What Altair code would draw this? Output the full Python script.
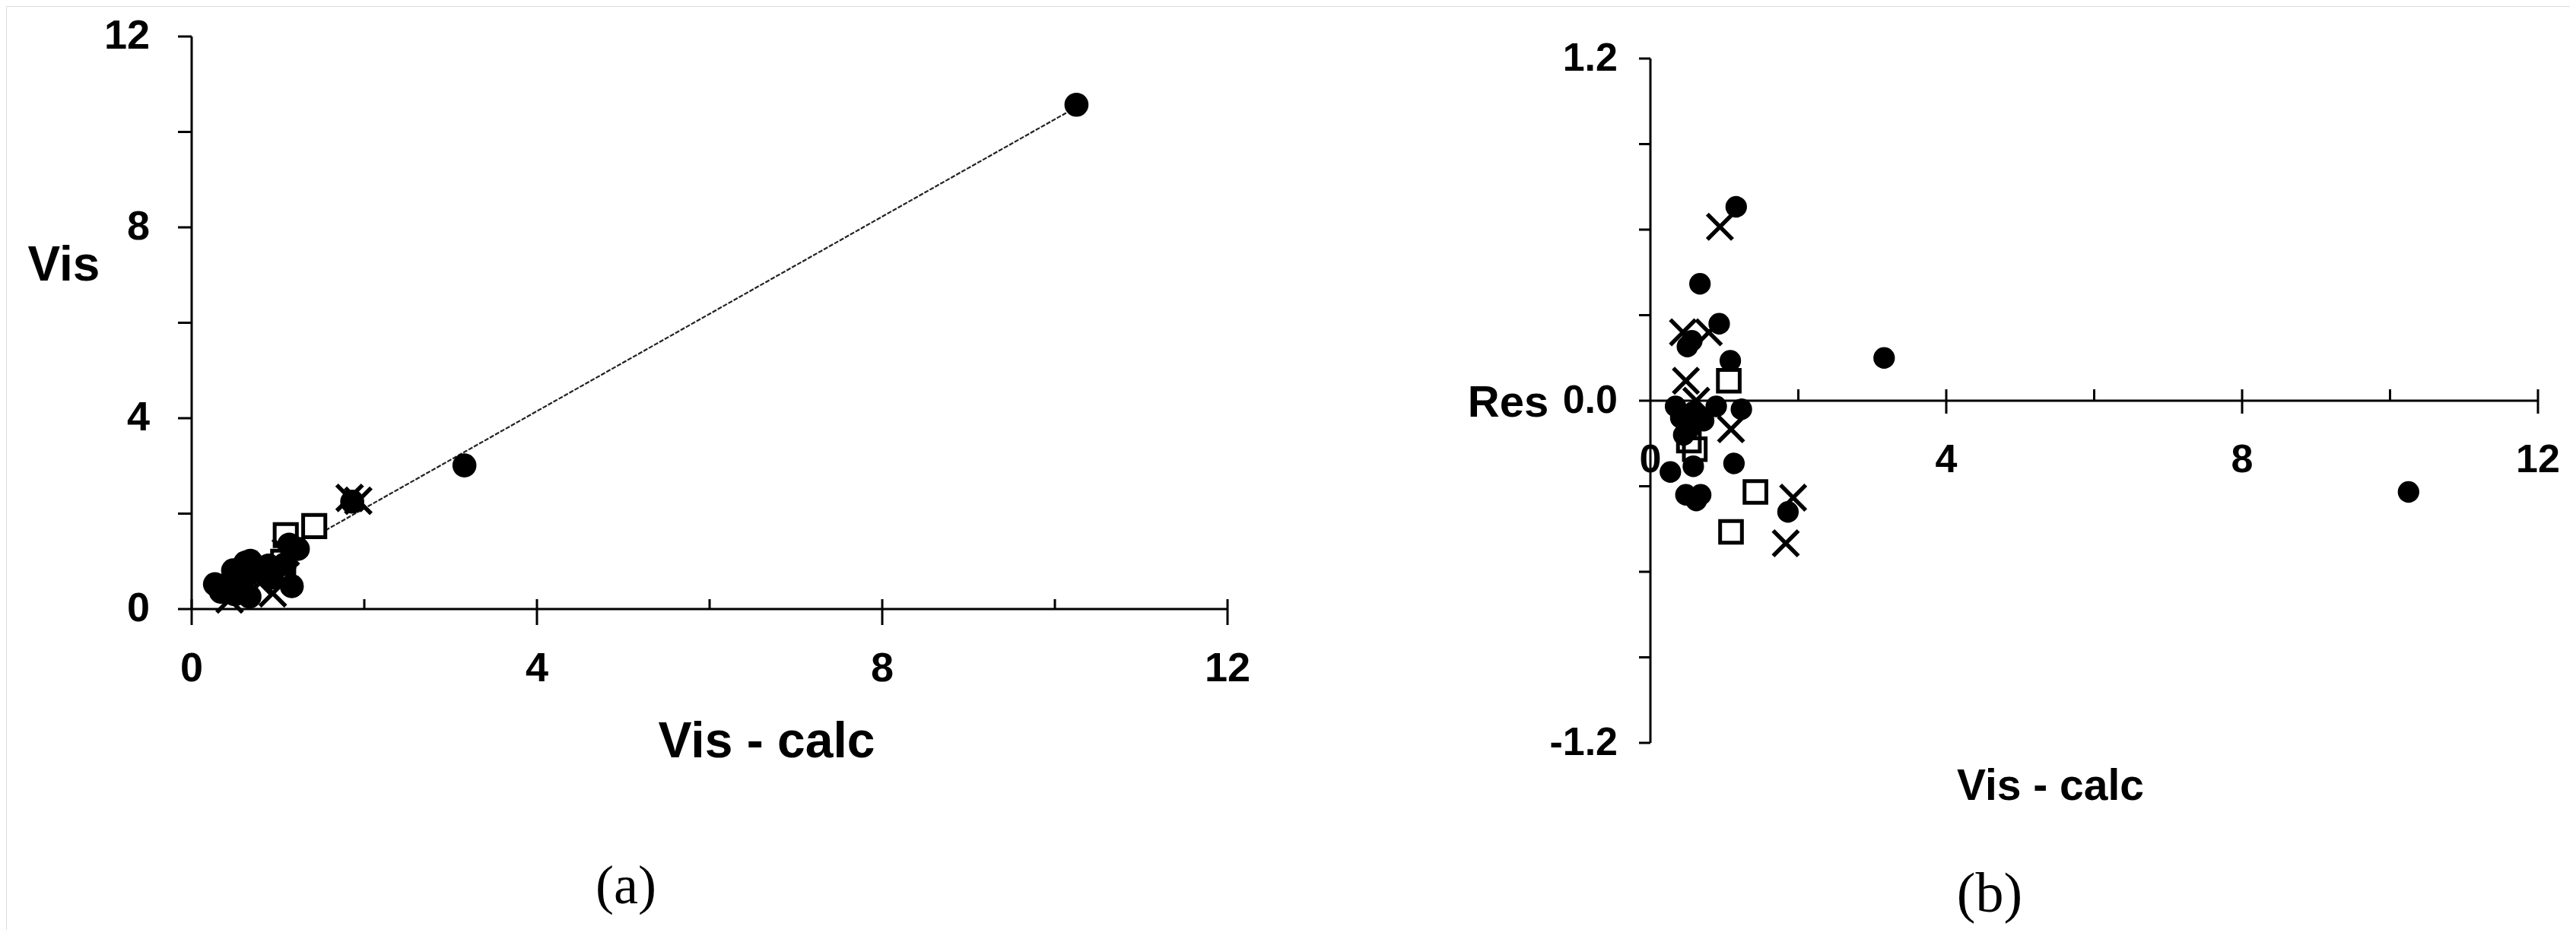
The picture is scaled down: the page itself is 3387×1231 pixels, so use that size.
import altair as alt
import pandas as pd

# ---------------- Panel (a): Vis vs Vis - calc ----------------
a_circ_x = [1.16, 0.67, 0.93, 0.50, 0.56, 1.08, 3.16, 1.23, 1.13, 0.34, 0.41, 0.72,
            0.89, 0.58, 0.27, 0.58, 0.48, 0.62, 0.68, 1.86, 10.25, 0.52, 0.45]
a_circ_y = [0.48, 0.26, 0.66, 0.31, 0.35, 0.94, 3.01, 1.26, 1.35, 0.36, 0.47, 0.79,
            0.91, 0.62, 0.52, 0.81, 0.81, 0.97, 1.01, 2.25, 10.57, 0.62, 0.57]
a_sq_x = [1.06, 0.52, 0.60, 1.42, 1.09]
a_sq_y = [0.99, 0.66, 0.77, 1.74, 1.55]
a_x_x = [0.94, 0.44, 0.79, 0.48, 1.09, 1.93, 1.83, 0.62]
a_x_y = [0.33, 0.20, 0.55, 0.41, 1.19, 2.27, 2.33, 0.62]
fit_x = [1.55, 10.25]
fit_y = [1.65, 10.52]

# ---------------- Panel (b): Res vs Vis - calc ----------------
b_circ_x = [1.16, 0.67, 0.93, 0.50, 0.56, 1.08, 3.16, 1.23, 1.13, 0.34, 0.41, 0.72,
            0.89, 0.58, 0.27, 0.58, 0.48, 0.62, 0.68, 1.86, 10.25, 0.52, 0.45]
b_circ_y = [0.68, 0.41, 0.27, 0.19, 0.21, 0.14, 0.15, -0.03, -0.22, -0.02, -0.06, -0.07,
            -0.02, -0.04, -0.25, -0.23, -0.33, -0.35, -0.33, -0.39, -0.32, -0.10, -0.12]
b_sq_x = [1.06, 0.52, 0.60, 1.42, 1.09]
b_sq_y = [0.07, -0.14, -0.17, -0.32, -0.46]
b_x_x = [0.94, 0.44, 0.79, 0.48, 1.09, 1.93, 1.83, 0.62]
b_x_y = [0.61, 0.24, 0.24, 0.07, -0.10, -0.34, -0.50, 0.00]

# ---------------- Axes: ticks and labels ----------------
a_x_major = [0, 4, 8, 12]
a_x_minor = [2, 6, 10]
a_y_ticks = [0, 2, 4, 6, 8, 10, 12]
a_x_lab_vals = [0, 4, 8, 12]
a_x_labels = ["0", "4", "8", "12"]
a_y_lab_vals = [0, 4, 8, 12]
a_y_labels = ["0", "4", "8", "12"]

b_x_major = [4, 8, 12]
b_x_minor = [2, 6, 10]
b_y_ticks = [-1.2, -0.9, -0.6, -0.3, 0.0, 0.3, 0.6, 0.9, 1.2]
b_x_lab_vals = [0, 4, 8, 12]
b_x_labels = ["0", "4", "8", "12"]
b_y_lab_vals = [1.2, 0.0, -1.2]
b_y_labels = ["1.2", "0.0", "-1.2"]

titles_text = ["Vis", "Vis - calc", "(a)", "Res", "Vis - calc", "(b)"]

SANS = "Liberation Sans"
SERIF = "Liberation Serif"

sa_x = alt.Scale(domain=[0, 12], range=[244, 1606], nice=False, zero=False)
sa_y = alt.Scale(domain=[0, 12], range=[793, 40], nice=False, zero=False)
sb_x = alt.Scale(domain=[0, 12], range=[2162, 3329], nice=False, zero=False)
sb_y = alt.Scale(domain=[-1.2, 1.2], range=[969, 69], nice=False, zero=False)

XPATH = "M-1,-1L1,1M-1,1L1,-1"


def xy(ch, sx, sy, xf="x", yf="y"):
    return ch.encode(x=alt.X(f"{xf}:Q", scale=sx, axis=None),
                     y=alt.Y(f"{yf}:Q", scale=sy, axis=None))


def panel(sx, sy, circ, sq, xs, xmaj, xmin, yt, xl, yl, sizes, tick, font, fsize, fit=None):
    xmax = sx.domain[1]
    ymin, ymax = sy.domain[0], sy.domain[1]
    circ_size, sq_size, x_size = sizes
    layers = []
    # axis lines
    ax_df = pd.DataFrame({"x": [0, 0], "x2": [xmax, 0], "y": [0, ymin], "y2": [0, ymax]})
    layers.append(xy(alt.Chart(ax_df).mark_rule(color="black", strokeWidth=3), sx, sy)
                  .encode(x2="x2:Q", y2="y2:Q"))
    up, down, left = tick
    # x major ticks (crossing)
    layers.append(xy(alt.Chart(pd.DataFrame({"x": xmaj, "y": 0})).mark_rule(
        color="black", strokeWidth=3, yOffset=-up, y2Offset=down), sx, sy).encode(y2="y:Q"))
    # x minor ticks (inside)
    layers.append(xy(alt.Chart(pd.DataFrame({"x": xmin, "y": 0})).mark_rule(
        color="black", strokeWidth=3, yOffset=-up), sx, sy).encode(y2="y:Q"))
    # y ticks (outside)
    layers.append(xy(alt.Chart(pd.DataFrame({"x": 0, "y": yt})).mark_rule(
        color="black", strokeWidth=3, xOffset=-left), sx, sy).encode(x2="x:Q"))
    # tick labels
    xv, xlab, xdy = xl
    layers.append(xy(alt.Chart(pd.DataFrame({"x": xv, "y": 0, "t": xlab})).mark_text(
        dy=xdy, align="center", baseline="middle", font=font, fontSize=fsize,
        fontWeight="bold", color="black"), sx, sy).encode(text="t:N"))
    yv, ylab, ydx = yl
    layers.append(xy(alt.Chart(pd.DataFrame({"x": 0, "y": yv, "t": ylab})).mark_text(
        dx=ydx, align="right", baseline="middle", font=font, fontSize=fsize,
        fontWeight="bold", color="black"), sx, sy).encode(text="t:N"))
    if fit is not None:
        layers.append(xy(alt.Chart(pd.DataFrame({"x": fit[0], "y": fit[1]})).mark_line(
            color="#222222", strokeWidth=2.2, strokeDash=[6, 2]), sx, sy))
    # markers
    layers.append(xy(alt.Chart(pd.DataFrame({"x": sq[0], "y": sq[1]})).mark_point(
        shape="square", filled=False, color="black", strokeWidth=5, size=sq_size, opacity=1), sx, sy))
    layers.append(xy(alt.Chart(pd.DataFrame({"x": xs[0], "y": xs[1]})).mark_point(
        shape=XPATH, filled=False, color="black", strokeWidth=5.5, size=x_size, opacity=1), sx, sy))
    layers.append(xy(alt.Chart(pd.DataFrame({"x": circ[0], "y": circ[1]})).mark_point(
        shape="circle", filled=True, color="black", size=circ_size, opacity=1), sx, sy))
    return alt.layer(*layers)


pa = panel(sa_x, sa_y, (a_circ_x, a_circ_y), (a_sq_x, a_sq_y), (a_x_x, a_x_y),
           a_x_major, a_x_minor, a_y_ticks,
           (a_x_lab_vals, a_x_labels, 79), (a_y_lab_vals, a_y_labels, -55),
           (1000, 850, 1150), (13, 21, 18), SANS, 54, fit=(fit_x, fit_y))
pb = panel(sb_x, sb_y, (b_circ_x, b_circ_y), (b_sq_x, b_sq_y), (b_x_x, b_x_y),
           b_x_major, b_x_minor, b_y_ticks,
           (b_x_lab_vals, b_x_labels, 78), (b_y_lab_vals, b_y_labels, -43),
           (800, 820, 1100), (15, 17, 15), SANS, 52)


def title(txt, px, py, font, size, weight="bold"):
    return alt.Chart(pd.DataFrame({"t": [txt]})).mark_text(
        align="center", baseline="middle", font=font, fontSize=size,
        fontWeight=weight, color="black").encode(
        x=alt.value(px), y=alt.value(py), text="t:N")


titles = [
    title(titles_text[0], 76, 342, SANS, 64),
    title(titles_text[1], 1000, 968, SANS, 66),
    title(titles_text[2], 815, 1158, SERIF, 72, "normal"),
    title(titles_text[3], 1975, 523, SANS, 58),
    title(titles_text[4], 2688, 1027, SANS, 57),
    title(titles_text[5], 2608, 1169, SERIF, 74, "normal"),
]

chart = alt.layer(pa, pb, *titles).resolve_scale(
    x="independent", y="independent"
).properties(
    width=3371, height=1215, autosize=alt.AutoSizeParams(type="none"), padding=0
).configure_view(stroke=None).configure(background="white")

chart.save("out.html", embed_options={"renderer": "svg", "actions": False})
